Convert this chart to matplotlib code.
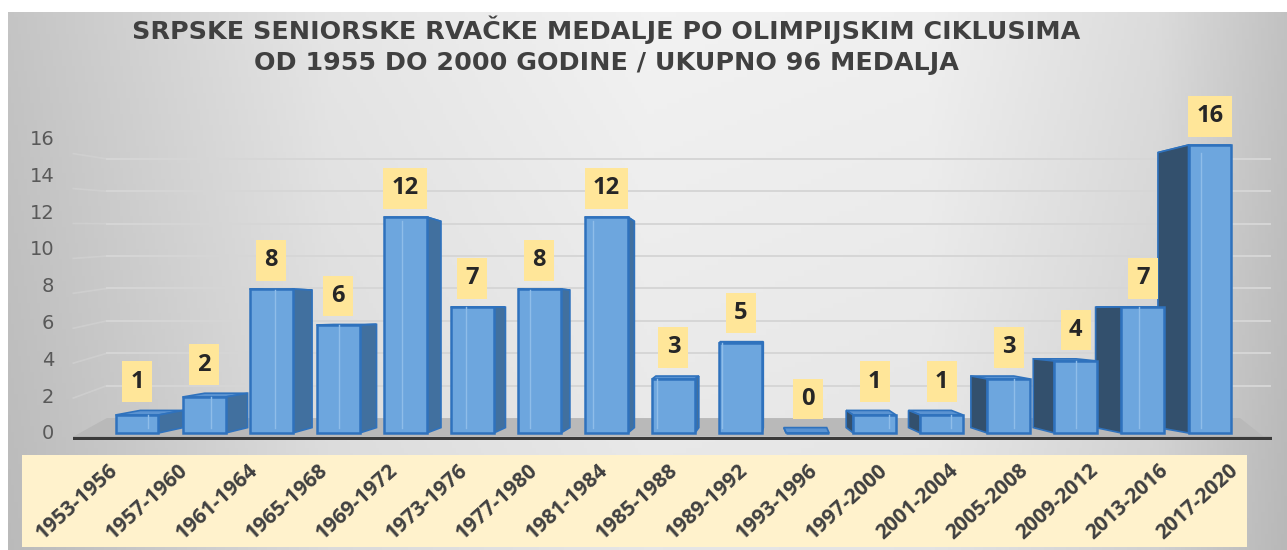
import numpy as np
import matplotlib.pyplot as plt
from matplotlib.patches import Polygon

plt.rcParams['font.family'] = ['Open Sans', 'DejaVu Sans']

# data
periods = ['1953-1956', '1957-1960', '1961-1964', '1965-1968', '1969-1972',
           '1973-1976', '1977-1980', '1981-1984', '1985-1988', '1989-1992',
           '1993-1996', '1997-2000', '2001-2004', '2005-2008', '2009-2012',
           '2013-2016', '2017-2020']
medals = [1, 2, 8, 6, 12, 7, 8, 12, 3, 5, 0, 1, 1, 3, 4, 7, 16]
yticks = [0, 2, 4, 6, 8, 10, 12, 14, 16]
title1 = 'SRPSKE SENIORSKE RVAČKE MEDALJE PO OLIMPIJSKIM CIKLUSIMA'
title2 = 'OD 1955 DO 2000 GODINE / UKUPNO 96 MEDALJA'

W, H = 1287, 550
fig = plt.figure(figsize=(W/100, H/100), dpi=100)
fig.patch.set_facecolor('white')

def px_axes(x0, y0, x1, y1, **kw):
    # pixel box (top-left origin) -> figure axes
    return fig.add_axes([x0/W, 1 - y1/H, (x1-x0)/W, (y1-y0)/H], **kw)

# ---- background gradient
bg = px_axes(8, 12, W, H)
xs = np.linspace(0, 1, 400)
ys = np.linspace(0, 1, 100)
hx = np.interp(xs, [0, 0.25, 0.5, 0.72, 0.9, 1.0],
               [0.77, 0.90, 0.95, 0.94, 0.86, 0.76])
vy = 1 - 0.05*ys
img = np.clip(np.outer(vy, hx), 0, 1)
bg.imshow(np.dstack([img, img, img]), aspect='auto', extent=(0, 1, 1, 0))
bg.set_axis_off()

# ---- titles
for txt, yb in [(title1, 39), (title2, 70)]:
    fig.text(606/W, 1 - yb/H, txt, ha='center', va='baseline',
             fontsize=18.3, fontweight='bold', color='#404040',
             family='DejaVu Sans')

# ---- main axes
ax = px_axes(60, 100, 1272, 440)
ax.patch.set_alpha(0)
ax.set_xlim(-1.148, 16.925)
ax.set_ylim(-0.389, 18.5)
for s in ax.spines.values():
    s.set_visible(False)
ax.set_xticks([])
ax.set_yticks([])

# value axis labels sit on the projected front scale (slightly taller than bars)
k_ax = 18.0/18.4
sec = ax.secondary_yaxis('left', functions=(lambda y: (y - 0.06)*k_ax,
                                            lambda t: t/k_ax + 0.06))
sec.set_yticks(yticks)
sec.spines['left'].set_visible(False)
sec.tick_params(length=0, pad=4, labelsize=14, labelcolor='#595959')
for t in sec.get_yticklabels():
    t.set_family('DejaVu Sans')

ppu = 67.06  # pixels per category unit

def back_y(v):
    return 0.3 + 0.955*v

def shift(i):
    c = 9.5
    if i < c:
        return 2.6*(c - i)/ppu
    return -4.7*(i - c)/ppu

# back wall gridlines (perspective)
for v in yticks[1:]:
    yb = 0.83 + 0.9*v
    ax.plot([-0.95, -0.45], [v*0.97, yb], color='#d4d4d4', lw=1.2, alpha=0.6, zorder=1)
    ax.plot([-0.45, 16.9], [yb, yb], color='#d6d6d6', lw=1.4, zorder=1)

# floor
floor = Polygon([(-0.95, -0.2), (16.8, -0.2), (16.45, 0.83), (-0.45, 0.83)],
                closed=True, fc='#b9b9b9', ec='none', zorder=1.5)
ax.add_patch(floor)
ax.plot([-0.95, 16.95], [-0.33, -0.33], color='#3a3a3a', lw=3, zorder=2,
        solid_capstyle='butt')

hw = 0.32
front_c = '#6da6de'
edge_c = '#2f72bd'
for i, v in enumerate(medals):
    dx = shift(i)
    yb0, ybv = back_y(0), back_y(v)
    top = Polygon([(i-hw, v), (i+hw, v), (i+hw+dx, ybv), (i-hw+dx, ybv)],
                  closed=True, fc='#5a93d2', ec=edge_c, lw=1.2, zorder=3)
    ax.add_patch(top)
    if dx > 0:
        ex, sc = i + hw, '#41709f'
    else:
        ex, sc = i - hw, '#33506d'
    side = Polygon([(ex, 0), (ex, v), (ex+dx, ybv), (ex+dx, yb0)],
                   closed=True, fc=sc, ec=edge_c, lw=1.2, zorder=3.5)
    ax.add_patch(side)

ax.bar(range(len(medals)), medals, width=2*hw, color=front_c,
       edgecolor=edge_c, linewidth=1.8, zorder=4)
# faint back edge seen through the translucent front face
for i, v in enumerate(medals):
    dx = shift(i)
    if v > 0:
        bx = i - hw + 1.3*dx if dx > 0 else i + hw + dx
        bx = min(max(bx, i - hw + 0.04), i + hw - 0.04)
        ax.plot([bx, bx], [back_y(0), min(back_y(v), v)], color='#8fbde9',
                lw=1, zorder=4.5)

# data labels
for i, v in enumerate(medals):
    vis_top = max(v, back_y(v))
    ax.annotate(str(v), (i, vis_top), xytext=(0, 12), textcoords='offset points',
                ha='center', va='bottom', fontsize=17, fontweight='bold',
                color='#262626', zorder=6,
                bbox=dict(boxstyle='square,pad=0.35', fc='#ffe699', ec='none'))

# ---- category label band
lab = px_axes(22, 455, 1247, 547)
lab.set_facecolor('#fff2cc')
for s in lab.spines.values():
    s.set_visible(False)
lab.set_xticks([])
lab.set_yticks([])
lab.set_xlim(-1.33, 16.17)
lab.set_ylim(0, 1)
for i, p in enumerate(periods):
    lab.text(i, 0.86, p, rotation=42, rotation_mode='anchor', ha='right',
             va='center', fontsize=15, fontweight='bold', color='#404040')

fig.savefig('out.png', dpi=100)
